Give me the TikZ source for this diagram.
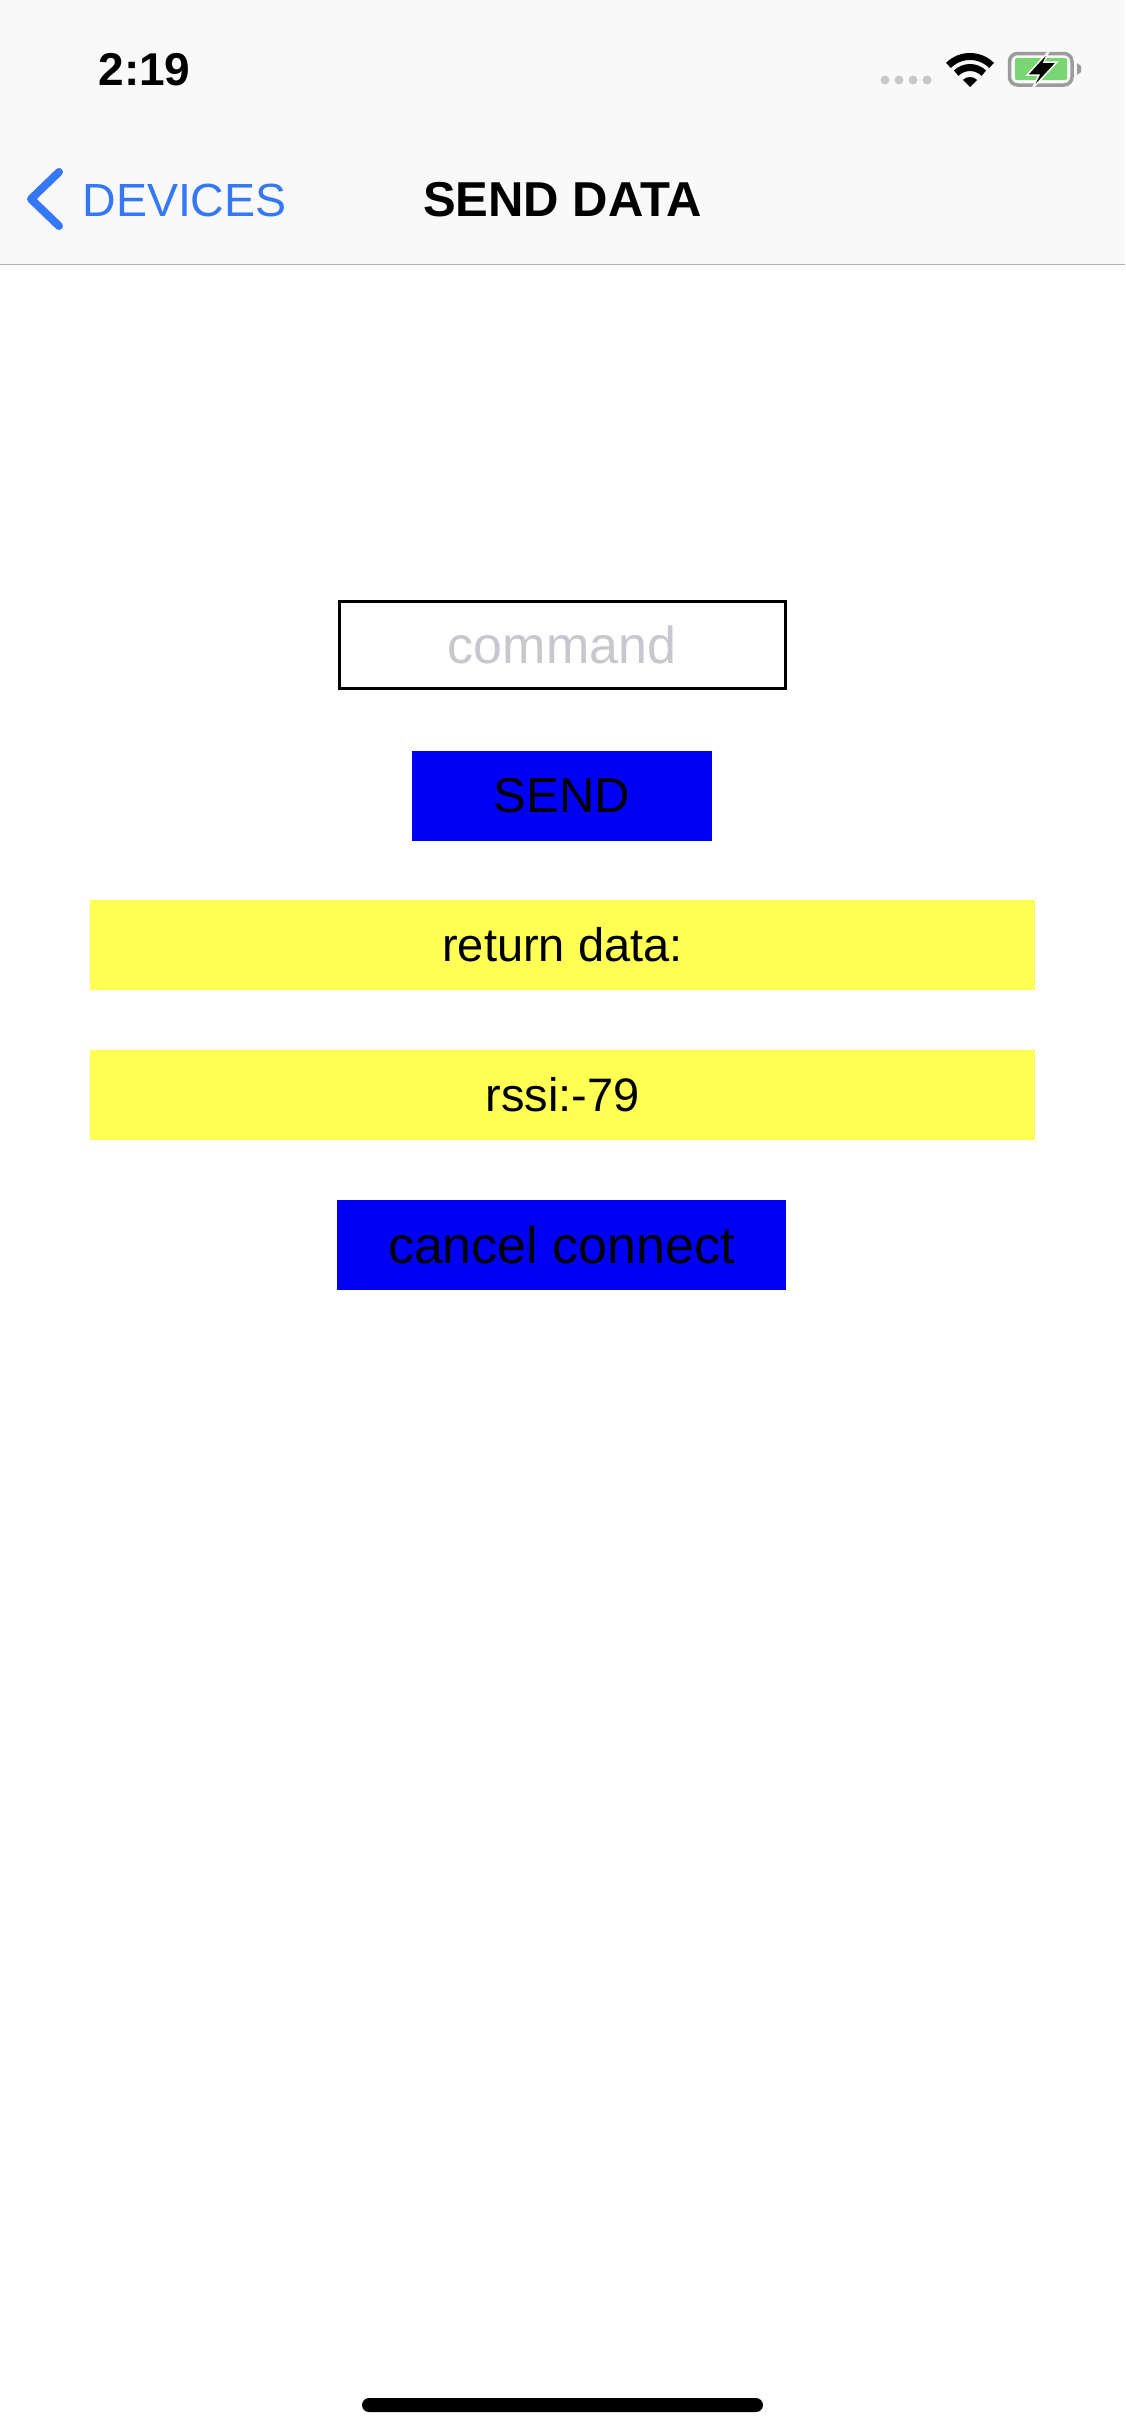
\documentclass[tikz,border=0pt]{standalone}
\usepackage{fontspec}
\setmainfont{Liberation Sans}
\definecolor{barbg}{HTML}{F9F9F9}
\definecolor{barline}{HTML}{B2B2B2}
\definecolor{linkblue}{HTML}{3478F6}
\definecolor{btnblue}{HTML}{0000F5}
\definecolor{rowyellow}{HTML}{FFFF54}
\definecolor{hintgray}{HTML}{C7C7CD}
\definecolor{dotgray}{HTML}{C8C8C8}
\definecolor{battgreen}{HTML}{7AD672}
\definecolor{battgray}{HTML}{9C9C9C}
\newcommand{\fsize}[1]{\fontsize{#1}{#1}\selectfont}
\tikzset{
  box/.style={inner sep=0pt, outer sep=0pt, minimum height=90pt, text=black, align=center},
  btntext/.style={font=\fsize{52}},
  rowtext/.style={font=\fsize{47}},
  bartext/.style={inner sep=0pt, outer sep=0pt, anchor=base},
}
\begin{document}
\begin{tikzpicture}[x=1pt,y=1pt]
  \useasboundingbox (0,0) rectangle (1125,-2436);
  \fill[white] (0,0) rectangle (1125,-2436);
  % bar at the top
  \fill[barbg] (0,0) rectangle (1125,-264);
  \draw[barline, line width=1.5pt] (0,-264.5) -- (1125,-264.5);
  \node[bartext, font=\fsize{46}\bfseries] (time) at (144.5,-85) {2:19};
  \node[bartext, font=\fsize{46.5}, text=linkblue] (back) at (184.5,-216) {DEVICES};
  \node[bartext, font=\fsize{49}\bfseries] (title) at (562.5,-216.5) {SEND DATA};
  \draw[linkblue, line width=8pt, line cap=round, line join=round]
    (59,-172) -- (31,-199) -- (59,-226);
  % status icons
  \foreach \x in {885,899,913,927}
    \fill[dotgray] (\x,-80) circle (4.5);
  \draw[black, line width=7pt] (970,-87) ++(45:30.5) arc (45:135:30.5);
  \draw[black, line width=7pt] (970,-87) ++(45:19.5) arc (45:135:19.5);
  \fill[black] (970,-87) -- ++(45:10) arc (45:135:10) -- cycle;
  \draw[battgray, line width=3.5pt, rounded corners=8pt] (1009.5,-53.5) rectangle (1072,-85);
  \fill[battgreen, rounded corners=2pt] (1015,-58) rectangle (1067,-80);
  \fill[battgray] (1077,-63) -- (1081,-66) -- (1081,-72) -- (1077,-75) -- cycle;
  \filldraw[black, draw=barbg, line width=1.5pt]
    (1049,-51) -- (1027,-75) -- (1039,-75) -- (1032,-89) -- (1057,-62) -- (1044,-62) -- cycle;
  % form
  \node[box, btntext, minimum width=446pt, minimum height=87pt, draw=black, line width=3pt, text=hintgray]
    (command) at (562,-644.5) {command};
  \node[box, btntext, font=\fsize{49}, minimum width=300pt, fill=btnblue] (send) at (562,-796) {SEND};
  \node[box, rowtext, minimum width=945pt, fill=rowyellow] (retdata) at (562.5,-945) {return data:};
  \node[box, rowtext, minimum width=945pt, fill=rowyellow] (rssi) at (562.5,-1095) {rssi:-79};
  \node[box, btntext, minimum width=449pt, fill=btnblue] (cancel) at (561.5,-1245) {cancel connect};
  % home bar
  \fill[black, rounded corners=7pt] (362,-2398) rectangle (763,-2412);
\end{tikzpicture}
\end{document}
